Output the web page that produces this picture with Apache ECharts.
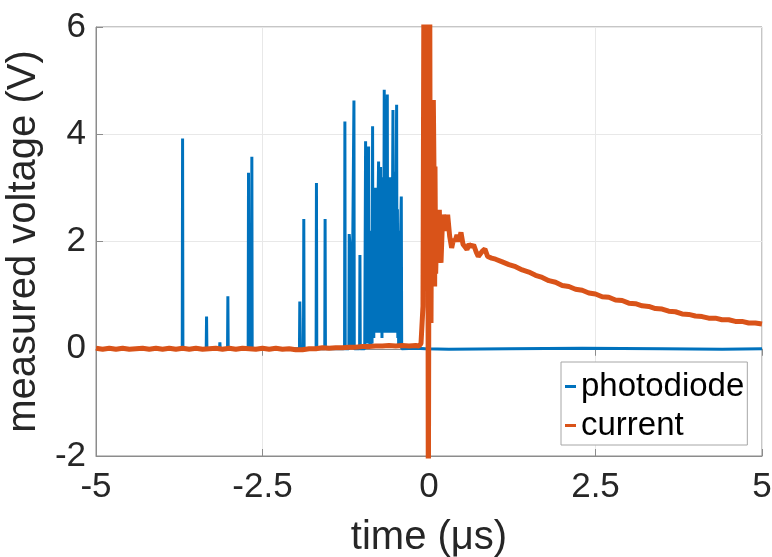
<!DOCTYPE html>
<html>
<head>
<meta charset="utf-8">
<script src="https://cdn.jsdelivr.net/npm/echarts@6/dist/echarts.min.js"></script>
<style>html,body{margin:0;padding:0;background:#fff}#c{width:772px;height:557px}</style>
</head>
<body>
<div id="c"></div>
<script>
// ---- data ----
const xTicks = [-5, -2.5, 0, 2.5, 5];
const yTicks = [-2, 0, 2, 4, 6];
const seriesNames = ['photodiode', 'current'];

// photodiode: [time (µs), voltage (V)]
const photodiode = [
  [-5, 0], [-3.705, 0], [-3.70, 3.92], [-3.695, 0],
  [-3.345, 0], [-3.34, 0.60], [-3.335, 0],
  [-3.145, 0], [-3.14, 0.12], [-3.135, 0],
  [-3.025, 0], [-3.02, 0.98], [-3.015, 0],
  [-2.715, 0], [-2.71, 3.28], [-2.70, 0.05], [-2.665, 0], [-2.66, 3.58], [-2.655, 0],
  [-1.945, 0], [-1.94, 0.88], [-1.93, 0.05], [-1.885, 0], [-1.88, 2.42], [-1.875, 0],
  [-1.695, 0], [-1.69, 3.09], [-1.685, 0],
  [-1.565, 0], [-1.56, 2.42], [-1.555, 0],
  [-1.268, 0], [-1.263, 4.24], [-1.258, 0],
  [-1.203, 0], [-1.198, 2.14], [-1.185, 1.9], [-1.163, 1.85], [-1.158, 0],
  [-1.132, 0], [-1.127, 4.63], [-1.122, 0],
  [-1.042, 0], [-1.037, 1.75], [-1.032, 0],
  [-0.965, 0], [-0.952, 3.87], [-0.946, 0.3], [-0.94, 2.9], [-0.933, 0.2], [-0.926, 2.5],
  [-0.92, 0.1], [-0.913, 0.1], [-0.907, 3.77], [-0.9, 0.4], [-0.894, 2.2], [-0.888, 0.1],
  [-0.872, 0.05], [-0.862, 1.2], [-0.855, 0.1], [-0.847, 4.15], [-0.841, 0.3], [-0.835, 2.4],
  [-0.829, 0.2], [-0.822, 2.7], [-0.816, 0.3], [-0.807, 3.0], [-0.801, 0.5], [-0.795, 2.8],
  [-0.79, 0.3], [-0.787, 2.95], [-0.781, 0.4], [-0.775, 2.6], [-0.769, 0.3], [-0.763, 2.9],
  [-0.757, 3.49], [-0.751, 0.4], [-0.745, 3.0], [-0.739, 0.3], [-0.733, 2.7], [-0.727, 3.39],
  [-0.721, 0.5], [-0.716, 2.8], [-0.712, 2.9], [-0.706, 0.2], [-0.7, 2.5], [-0.694, 0.3],
  [-0.688, 3.2], [-0.682, 0.4], [-0.672, 4.83], [-0.666, 0.4], [-0.66, 3.6], [-0.654, 0.3],
  [-0.648, 3.1], [-0.642, 0.3], [-0.636, 2.9], [-0.626, 4.74], [-0.62, 0.3], [-0.614, 3.0],
  [-0.608, 0.3], [-0.602, 2.8], [-0.596, 3.2], [-0.59, 0.3], [-0.584, 2.9], [-0.578, 0.4],
  [-0.571, 3.2], [-0.565, 0.3], [-0.559, 2.7], [-0.553, 0.3], [-0.547, 3.0], [-0.541, 4.45],
  [-0.535, 0.4], [-0.529, 3.3], [-0.523, 0.3], [-0.517, 3.1], [-0.511, 0.3], [-0.505, 2.6],
  [-0.499, 0.3], [-0.492, 3.4], [-0.486, 4.55], [-0.48, 0.3], [-0.474, 2.6], [-0.468, 0.2],
  [-0.462, 2.2], [-0.456, 0.05], [-0.43, 0.05], [-0.416, 2.84], [-0.41, 0],
  [-0.2, 0.01], [-0.05, 0.0], [0.3, -0.01], [1.2, 0.0], [2.3, 0.01], [2.32, -0.02],
  [3.5, 0.0], [4.4, -0.01], [5, 0.0]
];

// current: [time (µs), voltage (V)]
const current = [
  [-5.0, 0.01], [-4.9, -0.01], [-4.8, 0.01], [-4.7, -0.01], [-4.6, 0.01], [-4.5, -0.01],
  [-4.4, 0.0], [-4.3, 0.01], [-4.2, -0.01], [-4.1, 0.01], [-4.0, -0.01], [-3.9, 0.01],
  [-3.8, -0.01], [-3.7, 0.01], [-3.6, -0.01], [-3.5, 0.01], [-3.4, -0.01], [-3.3, 0.0],
  [-3.2, 0.01], [-3.1, -0.01], [-3.0, 0.01], [-2.9, -0.01], [-2.8, 0.01], [-2.7, 0.0],
  [-2.6, -0.01], [-2.5, 0.01], [-2.4, -0.01], [-2.3, 0.01], [-2.2, -0.01], [-2.1, 0.0],
  [-2.0, -0.02], [-1.9, -0.02], [-1.8, 0.0], [-1.7, 0.0], [-1.6, 0.02], [-1.5, 0.01],
  [-1.4, 0.02], [-1.3, 0.02], [-1.2, 0.03], [-1.1, 0.03], [-1.0, 0.04], [-0.9, 0.04],
  [-0.8, 0.05], [-0.7, 0.05], [-0.6, 0.06], [-0.5, 0.05], [-0.4, 0.06], [-0.3, 0.05],
  [-0.2, 0.06], [-0.15, 0.05], [-0.12, 0.1], [-0.09, 0.8], [-0.075, 7.5], [-0.06, 1.5],
  [-0.045, 7.5], [-0.03, 2.5], [-0.02, 7.5], [-0.01, -3.5], [0.0, 3.0], [0.01, 7.5],
  [0.02, 1.0], [0.03, 0.48], [0.04, 3.4], [0.05, 2.0], [0.065, 4.64], [0.075, 3.3],
  [0.085, 1.16], [0.09, 3.4], [0.1, 1.4], [0.115, 2.16], [0.13, 1.7], [0.14, 2.3],
  [0.155, 2.59], [0.165, 2.0], [0.18, 1.6], [0.2, 2.3], [0.22, 2.5], [0.24, 2.5],
  [0.26, 2.2], [0.28, 2.5], [0.29, 2.47], [0.31, 2.1], [0.34, 1.88], [0.37, 2.05],
  [0.39, 2.0], [0.42, 2.12], [0.45, 2.0], [0.48, 2.17], [0.51, 1.95], [0.54, 1.9],
  [0.57, 1.85], [0.6, 1.95], [0.64, 1.9], [0.67, 1.94], [0.71, 1.8], [0.74, 1.72],
  [0.77, 1.72], [0.8, 1.82], [0.84, 1.86], [0.88, 1.72], [0.94, 1.69], [1.0, 1.67],
  [1.1, 1.62], [1.2, 1.57], [1.3, 1.53], [1.4, 1.47], [1.5, 1.43], [1.6, 1.37],
  [1.7, 1.33], [1.8, 1.27], [1.9, 1.24], [2.0, 1.18], [2.1, 1.16], [2.2, 1.11],
  [2.3, 1.09], [2.4, 1.04], [2.5, 1.02], [2.6, 0.97], [2.7, 0.96], [2.8, 0.91],
  [2.9, 0.9], [3.0, 0.85], [3.1, 0.84], [3.2, 0.8], [3.3, 0.79], [3.4, 0.75],
  [3.5, 0.74], [3.6, 0.7], [3.7, 0.69], [3.8, 0.65], [3.9, 0.64], [4.0, 0.61],
  [4.1, 0.6], [4.2, 0.57], [4.3, 0.57], [4.4, 0.54], [4.5, 0.54], [4.6, 0.51],
  [4.7, 0.51], [4.8, 0.48], [4.9, 0.48], [5.0, 0.46]
];

// ---- chart ----
const FONT = 'Liberation Sans, Arial, Helvetica, sans-serif';
const AXIS_COLOR = '#8c8c8c';
const TEXT_COLOR = '#262626';
const chart = echarts.init(document.getElementById('c'), null, {renderer: 'canvas'});

function boxAxis(pos) {
  return {
    type: 'value', position: pos,
    min: pos === 'top' ? xTicks[0] : yTicks[0],
    max: pos === 'top' ? xTicks[xTicks.length - 1] : yTicks[yTicks.length - 1],
    interval: pos === 'top' ? 2.5 : 2,
    axisLine: {show: true, lineStyle: {color: AXIS_COLOR, width: 1}},
    axisTick: {show: true, inside: true, length: 7, lineStyle: {color: AXIS_COLOR}},
    axisLabel: {show: false},
    splitLine: {show: false}
  };
}

chart.setOption({
  animation: false,
  backgroundColor: '#fff',
  grid: {left: 96, right: 10, top: 27, bottom: 101, containLabel: false, outerBoundsMode: 'none',
         show: true, borderColor: AXIS_COLOR, borderWidth: 1, backgroundColor: '#fff'},
  xAxis: [{
    type: 'value', min: xTicks[0], max: xTicks[xTicks.length - 1], interval: 2.5,
    name: 'time (μs)', nameLocation: 'middle', nameGap: 62,
    nameTextStyle: {fontFamily: FONT, fontSize: 40, color: TEXT_COLOR},
    axisLine: {show: true, onZero: false, lineStyle: {color: AXIS_COLOR, width: 1}},
    axisTick: {show: true, inside: true, length: 7, lineStyle: {color: AXIS_COLOR}},
    axisLabel: {fontFamily: FONT, fontSize: 35, color: TEXT_COLOR, margin: 14,
                formatter: v => String(v)},
    splitLine: {show: true, lineStyle: {color: '#e8e8e8', width: 1}}
  }, boxAxis('top')],
  yAxis: [{
    type: 'value', min: yTicks[0], max: yTicks[yTicks.length - 1], interval: 2,
    name: 'measured voltage (V)', nameLocation: 'middle', nameRotate: 90, nameGap: 44,
    nameTextStyle: {fontFamily: FONT, fontSize: 40, color: TEXT_COLOR},
    axisLine: {show: true, onZero: false, lineStyle: {color: AXIS_COLOR, width: 1}},
    axisTick: {show: true, inside: true, length: 7, lineStyle: {color: AXIS_COLOR}},
    axisLabel: {fontFamily: FONT, fontSize: 35, color: TEXT_COLOR, margin: 10},
    splitLine: {show: true, lineStyle: {color: '#e8e8e8', width: 1}}
  }, boxAxis('right')],
  legend: {
    orient: 'vertical', left: 561, top: 362,
    padding: [8, 3, 3, 4], itemGap: 6, itemWidth: 11, itemHeight: 3,
    backgroundColor: '#fff', borderColor: '#a6a6a6', borderWidth: 1, borderRadius: 0,
    textStyle: {fontFamily: FONT, fontSize: 33, color: '#000'},
    data: seriesNames.map(n => ({name: n, icon: 'rect'}))
  },
  series: [{
    name: seriesNames[0], type: 'line', data: photodiode, showSymbol: false, symbol: 'none',
    clip: true, color: '#0072BD', lineStyle: {width: 3, color: '#0072BD'}, z: 2
  }, {
    name: seriesNames[1], type: 'line', data: current, showSymbol: false, symbol: 'none',
    clip: true, color: '#D95319', lineStyle: {width: 5, color: '#D95319'}, z: 3
  }]
});
</script>
</body>
</html>
